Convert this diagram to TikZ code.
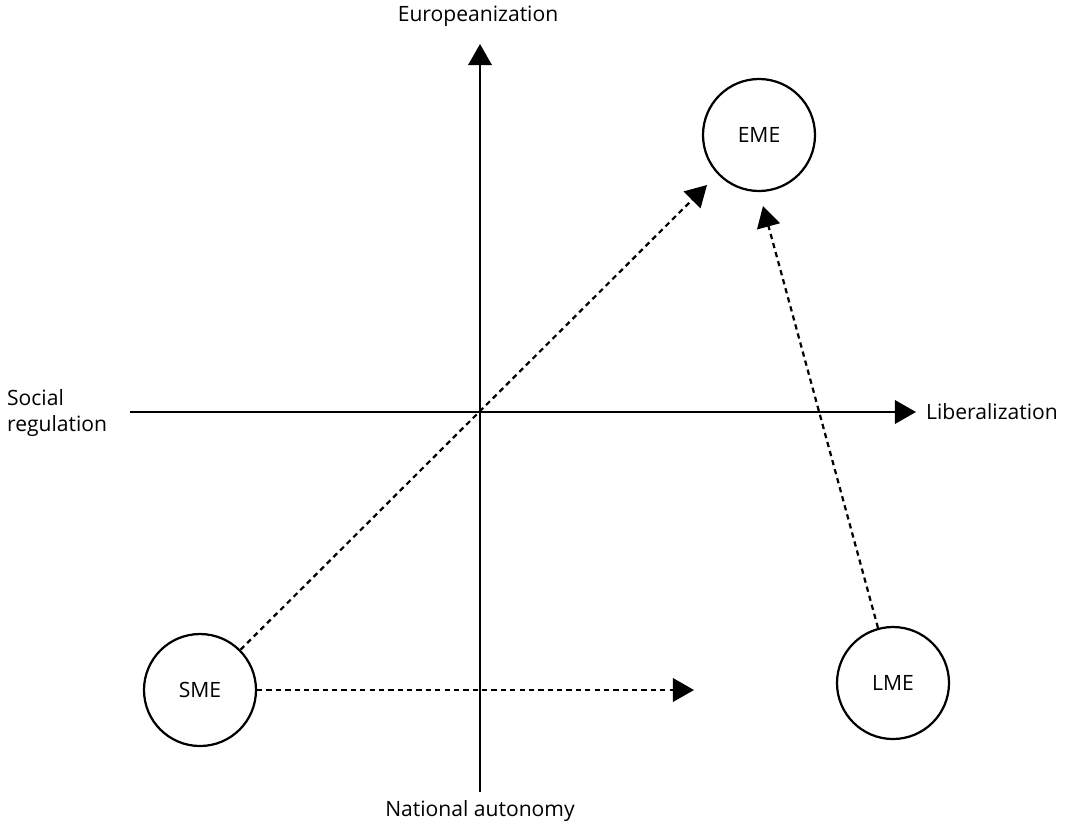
\documentclass[tikz,border=0pt]{standalone}
\usepackage{fontspec}
\setmainfont{Open Sans}
\usetikzlibrary{arrows.meta}
\newcommand{\lbl}{\fontsize{18}{23}\selectfont}

\begin{document}
\begin{tikzpicture}[x=0.03cm,y=-0.03cm,font=\lbl,
   axis/.style={line width=1.9pt,-{Triangle[length=18pt,width=20pt]}},
   move/.style={line width=1.9pt,dash pattern=on 4.5pt off 3.5pt,-{Triangle[length=18pt,width=20pt]}},
   eco/.style={draw,circle,line width=1.9pt,minimum size=3.36cm,inner sep=0pt}]
   \useasboundingbox (0,0) rectangle (1071,827);
   \coordinate (south) at (480,792);
   \coordinate (north) at (480,44);
   \coordinate (west)  at (130,412);
   \coordinate (east)  at (916,412);
   \draw[axis] (south) -- (north);
   \draw[axis] (west) -- (east);
   \node (eur) at (478,16) {Europeanization};
   \node (nat) at (480,811) {National autonomy};
   \node[anchor=west,align=left] (soc) at (3,413) {Social\\regulation};
   \node[anchor=west] (lib) at (922,412) {Liberalization};
   \node[eco] (EME) at (759,135) {EME};
   \node[eco] (SME) at (200,690) {SME};
   \node[eco] (LME) at (893,683) {LME};
   \coordinate (tipA) at (707,185);
   \coordinate (tipB) at (694,690);
   \coordinate (tipC) at (763,206);
   \draw[move] (SME) -- (tipA);
   \draw[move] (SME) -- (tipB);
   \draw[move] (LME) -- (tipC);
\end{tikzpicture}
\end{document}
